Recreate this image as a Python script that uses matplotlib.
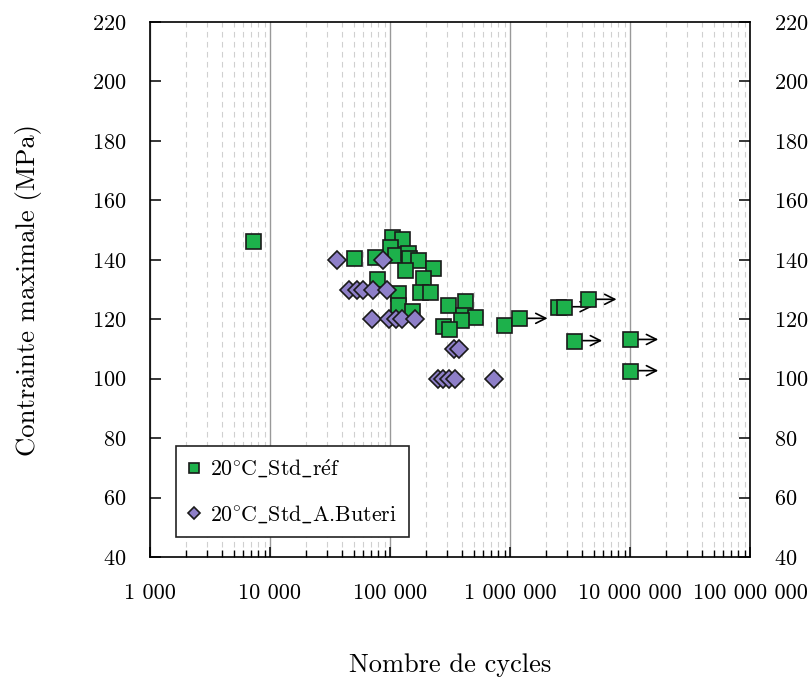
import matplotlib
matplotlib.use("Agg")
import matplotlib.pyplot as plt
from matplotlib.ticker import FuncFormatter, LogLocator, MultipleLocator

plt.rcParams['font.family'] = ['cmr10', 'DejaVu Serif']
plt.rcParams['mathtext.fontset'] = 'cm'
plt.rcParams['axes.formatter.use_mathtext'] = True

# 20°C_Std_réf  (cycles, stress MPa)
ref_cycles = [7180, 50000, 75000, 77500, 103000, 125000, 100000, 110000, 142000,
              145000, 172000, 133000, 229000, 189000, 117000, 178000, 215000,
              117000, 152000, 306000, 422000, 403000, 511000, 390000, 275000,
              312000, 891000, 1196000, 2500000, 2800000, 4490000, 3410000,
              10000000, 10000000]
ref_stress = [146.3, 140.5, 140.8, 133.4, 147.8, 147.0, 144.4, 141.6, 142.2,
              140.5, 139.9, 136.6, 137.1, 133.8, 128.7, 129.3, 129.3,
              124.8, 122.9, 124.8, 126.2, 121.4, 120.9, 119.7, 117.7,
              116.6, 118.0, 120.3, 124.0, 124.2, 126.7, 112.8,
              113.2, 102.7]

# run-outs (non rompues)
runout_cycles = [1196000, 2800000, 4490000, 3410000, 10000000, 10000000]
runout_stress = [120.3, 124.2, 126.7, 112.8, 113.2, 102.7]

# 20°C_Std_A.Buteri
but_cycles = [36400, 86900, 45800, 52700, 60000, 72600, 95000, 70300, 98700,
              113000, 125000, 161000, 341000, 376000, 253000, 278000, 312000,
              348000, 736000]
but_stress = [140, 140, 130, 130, 130, 130, 130, 120, 120,
              120, 120, 120, 110, 110, 100, 100, 100,
              100, 100]

green = '#1db14b'
purple = '#8e7fc8'

fig = plt.figure(figsize=(8.1, 6.84), dpi=100)
ax = fig.add_axes([150/810, 127/684, 600/810, 535/684])

ax.set_xscale('log')
ax.set_xlim(1e3, 1e8)
ax.set_ylim(40, 220)

# grid
ax.xaxis.set_major_locator(LogLocator(base=10, numticks=10))
ax.xaxis.set_minor_locator(LogLocator(base=10, subs=range(2, 10), numticks=20))
ax.grid(True, which='major', axis='x', color='#999999', lw=1.0, ls='-')
ax.grid(True, which='minor', axis='x', color='#d0d0d0', lw=0.8, ls=(0, (5, 4)))
ax.set_axisbelow(True)

for k in range(len(runout_cycles)):
    ax.annotate('', xy=(runout_cycles[k] * 1.72, runout_stress[k]),
                xytext=(runout_cycles[k], runout_stress[k]),
                arrowprops=dict(arrowstyle='->', color='black', lw=1.2,
                                mutation_scale=18, shrinkA=0, shrinkB=0),
                zorder=3)

ax.plot(ref_cycles, ref_stress, ls='none', marker='s', ms=10.8, mfc=green,
        mec='#1a1a1a', mew=1.2, label=r'$\mathrm{20^{\circ}\hspace{-0.08}C\_Std\_r\acute{e}f}$', zorder=4)
ax.plot(but_cycles, but_stress, ls='none', marker='D', ms=8.8, mfc=purple,
        mec='#1a1a1a', mew=1.2, label=r'$\mathrm{20^{\circ}\hspace{-0.08}C\_Std\_A}$.Buteri', zorder=5)

ax.xaxis.set_major_formatter(FuncFormatter(lambda v, p: f"{int(round(v)):,}".replace(',', ' ')))
ax.yaxis.set_major_locator(MultipleLocator(20))

ax.tick_params(axis='x', which='major', direction='in', length=7, width=1.1,
               labelsize=16, pad=19, top=False)
ax.tick_params(axis='x', which='minor', direction='in', length=5, width=1.0, top=False)
ax.tick_params(axis='y', which='major', direction='in', length=8, width=1.1,
               labelsize=16, pad=17, left=True, right=True, labelright=True)

for s in ax.spines.values():
    s.set_linewidth(1.2)

ax.set_xlabel('Nombre de cycles', fontsize=19, labelpad=36)
ax.set_ylabel('Contrainte maximale (MPa)', fontsize=19.2, labelpad=36)

leg = ax.legend(loc='lower left', bbox_to_anchor=(0.043, 0.037), fontsize=15.8,
                markerscale=0.65, handletextpad=0.4, handlelength=0.6,
                labelspacing=1.05, borderpad=0.55, borderaxespad=0,
                fancybox=False, edgecolor='#222222', framealpha=1)
leg.get_frame().set_linewidth(1.2)

fig.savefig('out.png', dpi=100)
